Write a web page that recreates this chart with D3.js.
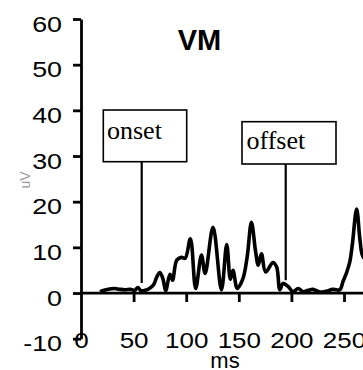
<!DOCTYPE html>
<html>
<head>
<meta charset="utf-8">
<script src="https://cdnjs.cloudflare.com/ajax/libs/d3/7.8.5/d3.min.js"></script>
<style>
  body { margin: 0; background: #fff; }
  svg { display: block; }
</style>
</head>
<body>
<script>

// trace data (ms, uV)
var timeMs = [18, 22, 27, 32, 37, 42, 47, 51, 54, 57, 61, 65, 69, 72, 75, 78, 80.5,
              84.5, 87, 91, 95.5, 99, 104, 109, 114.5, 118, 125.5, 133.5, 138.5, 142,
              144.5, 148.5, 154, 158, 162, 166, 168.5, 171.5, 175.5, 182.5, 186, 189,
              192, 197, 201.5, 206.5, 211, 216, 220.5, 227, 233, 239.5, 246, 249,
              252.5, 255.5, 258, 262, 265, 267, 269];
var voltage = [0.3, 0.6, 0.9, 1.0, 0.8, 0.7, 0.8, 0.6, 1.2, 0.5, 0.6, 1.0, 1.8, 3.5, 4.5, 3.0, 0.5,
               4.1, 2.8, 7.2, 7.8, 7.6, 11.9, 1.0, 8.3, 4.3, 14.4, 0.7, 10.6, 3.0,
               5.0, 1.0, 3.2, 8.0, 15.5, 9.0, 6.1, 8.6, 4.6, 6.7, 5.7, 0.7,
               2.1, 1.4, 0.3, 1.0, 0.3, 0.6, 0.8, 0.2, 0.4, 0.8, 0.7, 2.5,
               4.5, 6.8, 10.8, 18.4, 12.0, 8.6, 7.6];

var yTicks = [60, 50, 40, 30, 20, 10, 0, -10];
var xTicks = [0, 50, 100, 150, 200, 250];

// event markers
var markerNames = ["onset", "offset"];
var markerMs = [57.7, 194.6];
var markerEnd = [2.2, 2.8];

var svg = d3.select("body")
            .append("svg")
            .attr("width", 363)
            .attr("height", 370);

var x = d3.scaleLinear().domain([0, 250]).range([81, 344]);
var y = d3.scaleLinear().domain([-10, 60]).range([338.7, 19]);

// y axis
var yAxis = svg.append("g")
               .attr("transform", "translate(" + x(0) + ",0)")
               .call(d3.axisLeft(y).tickValues(yTicks).tickSize(8).tickSizeOuter(0).tickFormat(d3.format("d")));

yAxis.select(".domain").attr("stroke-width", 2.8);
yAxis.selectAll(".tick line").attr("stroke-width", 2.8);
yAxis.selectAll(".tick text")
     .attr("font-family", "Liberation Sans, Arial, sans-serif")
     .attr("font-size", 22)
     .attr("fill", "#000")
     .attr("x", -19 / 1.22)
     .attr("dy", "0.55em")
     .attr("transform", "scale(1.22,1)")
     .text(function(d) { return d < 0 ? "-" + Math.abs(d) : d; });

// x axis, sitting on zero with the labels pushed down to -10
var xAxis = svg.append("g")
               .attr("transform", "translate(0," + y(0) + ")")
               .call(d3.axisBottom(x).tickValues(xTicks).tickSize(9).tickSizeOuter(0).tickPadding(30));

xAxis.select(".domain")
     .attr("d", "M" + x(0) + ",0H363")
     .attr("stroke-width", 2.8);
xAxis.selectAll(".tick line")
     .attr("stroke-width", 2.8)
     .attr("display", function(d) { return d === 0 ? "none" : null; });
xAxis.selectAll(".tick text")
     .attr("font-family", "Liberation Sans, Arial, sans-serif")
     .attr("font-size", 22)
     .attr("fill", "#000")
     .attr("transform", "scale(1.18,1)");

// put the y axis line back on top of the "0" label
yAxis.raise();

svg.append("text")
   .attr("x", 225)
   .attr("y", 368)
   .attr("text-anchor", "middle")
   .attr("font-family", "Liberation Sans, Arial, sans-serif")
   .attr("font-size", 22)
   .text("ms");

svg.append("text")
   .attr("transform", "translate(30,180) rotate(-90)")
   .attr("text-anchor", "middle")
   .attr("font-family", "Liberation Sans, Arial, sans-serif")
   .attr("font-size", 14)
   .attr("fill", "#999")
   .text("uV");

svg.append("text")
   .attr("x", 199.5)
   .attr("y", 50)
   .attr("text-anchor", "middle")
   .attr("font-family", "Liberation Sans, Arial, sans-serif")
   .attr("font-weight", "bold")
   .attr("font-size", 29)
   .text("VM");

// the trace
var line = d3.line()
             .x(function(d) { return x(d[0]); })
             .y(function(d) { return y(d[1]); })
             .curve(d3.curveCatmullRom.alpha(0.5));

svg.append("path")
   .datum(d3.zip(timeMs, voltage))
   .attr("d", line)
   .attr("fill", "none")
   .attr("stroke", "#000")
   .attr("stroke-width", 3.6)
   .attr("stroke-linejoin", "round");

// onset / offset boxes with their pointer lines
var boxes = [
  {left: 103.3, top: 110, w: 83.4, h: 51.7, tx: 107, ty: 138.5},
  {left: 242, top: 121.7, w: 94, h: 42.3, tx: 246.5, ty: 149}
];

var markers = svg.selectAll("g.marker")
                 .data(markerNames)
                 .enter()
                 .append("g")
                 .attr("class", "marker");

markers.append("line")
       .attr("x1", function(d, i) { return x(markerMs[i]); })
       .attr("x2", function(d, i) { return x(markerMs[i]); })
       .attr("y1", function(d, i) { return boxes[i].top + boxes[i].h; })
       .attr("y2", function(d, i) { return y(markerEnd[i]); })
       .attr("stroke", "#000")
       .attr("stroke-width", 2.2);

markers.append("rect")
       .attr("x", function(d, i) { return boxes[i].left; })
       .attr("y", function(d, i) { return boxes[i].top; })
       .attr("width", function(d, i) { return boxes[i].w; })
       .attr("height", function(d, i) { return boxes[i].h; })
       .attr("fill", "#fff")
       .attr("stroke", "#000")
       .attr("stroke-width", 1.6);

markers.append("text")
       .attr("x", function(d, i) { return boxes[i].tx; })
       .attr("y", function(d, i) { return boxes[i].ty; })
       .attr("font-family", "Liberation Serif, Times New Roman, serif")
       .attr("font-size", 26)
       .text(function(d) { return d; });

</script>
</body>
</html>
